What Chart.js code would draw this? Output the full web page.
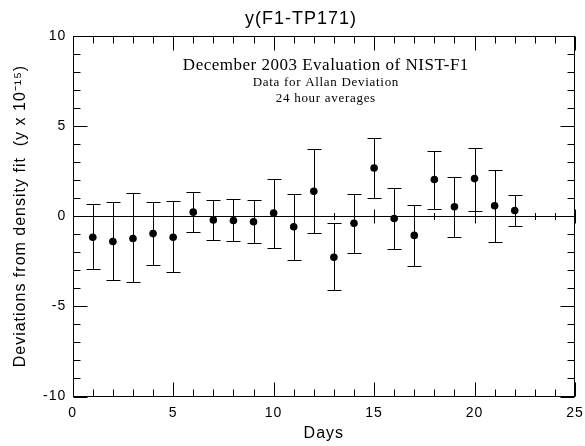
<!DOCTYPE html>
<html><head><meta charset="utf-8">
<script src="https://cdn.jsdelivr.net/npm/chart.js@4/dist/chart.umd.min.js"></script>
<style>html,body{margin:0;padding:0;background:#fff}#wrap{width:585px;height:446px}</style>
</head><body><div id="wrap"><canvas id="c" width="585" height="446"></canvas></div>
<script>
const days = [1,2,3,4,5,6,7,8,9,10,11,12,13,14,15,16,17,18,19,20,21,22];
const deviations = [-1.17,-1.41,-1.24,-0.97,-1.17,0.22,-0.22,-0.24,-0.31,0.17,-0.59,1.38,-2.28,-0.40,2.67,-0.13,-1.07,2.03,0.52,2.08,0.57,0.31];
const upperErr = [0.68,0.77,1.29,0.77,0.81,1.33,0.90,0.96,0.90,2.06,1.20,3.72,-0.41,1.25,4.33,1.58,0.61,3.63,2.19,3.80,2.56,1.16];
const lowerErr = [-2.95,-3.52,-3.68,-2.72,-3.10,-0.90,-1.34,-1.40,-1.51,-1.77,-2.41,-0.92,-4.10,-2.02,0.99,-1.82,-2.74,0.41,-1.14,0.31,-1.44,-0.55];
const xTicks = [0,1,2,3,4,5,6,7,8,9,10,11,12,13,14,15,16,17,18,19,20,21,22,23,24,25];
const yTicks = [-10,-9,-8,-7,-6,-5,-4,-3,-2,-1,0,1,2,3,4,5,6,7,8,9,10];
const titleText = 'y(F1-TP171)';
const xTitle = 'Days';
const yTitle = 'Deviations from density fit  (y x 10\u207B\u00B9\u2075)';
const noteLines = ['December 2003 Evaluation of NIST-F1','Data for Allan Deviation','24 hour averages'];

const SANS = "'Liberation Sans', Arial, sans-serif";
const SERIF = "'Liberation Serif', 'Times New Roman', serif";

const spacing = {
  id: 'spacing',
  beforeLayout(chart) { chart.ctx.letterSpacing = '1px'; },
  beforeDraw(chart) { chart.ctx.letterSpacing = '1px'; }
};

const decor = {
  id: 'decor',
  beforeDatasetsDraw(chart) {
    const ctx = chart.ctx, a = chart.chartArea;
    const xs = chart.scales.x, ys = chart.scales.y;
    ctx.save();
    ctx.strokeStyle = '#000';
    ctx.lineWidth = 1;
    const L = Math.round(a.left)+0.5, R = Math.round(a.right)-0.5, T = Math.round(a.top)+0.5, B = Math.round(a.bottom)-0.5;
    ctx.strokeRect(L, T, R-L, B-T);
    ctx.beginPath();
    xTicks.forEach(v => {
      const px = Math.round(xs.getPixelForValue(v)) + 0.5;
      const len = v % 5 === 0 ? 14 : 7;
      ctx.moveTo(px, B); ctx.lineTo(px, B-len);
      ctx.moveTo(px, T); ctx.lineTo(px, T+len);
    });
    yTicks.forEach(v => {
      const py = Math.round(ys.getPixelForValue(v)) + 0.5;
      const len = v % 5 === 0 ? 14 : 7;
      ctx.moveTo(L, py); ctx.lineTo(L+len, py);
      ctx.moveTo(R, py); ctx.lineTo(R-len, py);
    });
    const z = Math.round(ys.getPixelForValue(0)) + 0.5;
    ctx.moveTo(L, z); ctx.lineTo(R, z);
    xTicks.forEach(v => {
      const px = Math.round(xs.getPixelForValue(v)) + 0.5;
      const h = v % 5 === 0 ? 7 : 3.5;
      ctx.moveTo(px, z-h); ctx.lineTo(px, z+h);
    });
    ctx.stroke();
    ctx.beginPath();
    days.forEach((d, i) => {
      const px = Math.round(xs.getPixelForValue(d)) + 0.5;
      const pHi = Math.round(ys.getPixelForValue(upperErr[i])) + 0.5;
      const pLo = Math.round(ys.getPixelForValue(lowerErr[i])) + 0.5;
      ctx.moveTo(px, pHi); ctx.lineTo(px, pLo);
      ctx.moveTo(px-7, pHi); ctx.lineTo(px+7, pHi);
      ctx.moveTo(px-7, pLo); ctx.lineTo(px+7, pLo);
    });
    ctx.stroke();
    ctx.fillStyle = '#000';
    ctx.textAlign = 'center';
    ctx.textBaseline = 'middle';
    ctx.letterSpacing = '1px';
    ctx.font = '18px ' + SANS;
    ctx.fillText(titleText, 301, 19);
    const cx = xs.getPixelForValue(12.6);
    ctx.letterSpacing = '0.5px';
    ctx.font = '17px ' + SERIF;
    ctx.fillText(noteLines[0], cx, 66);
    ctx.letterSpacing = '0.7px';
    ctx.font = '13px ' + SERIF;
    ctx.fillText(noteLines[1], cx, 83);
    ctx.fillText(noteLines[2], cx, 99);
    ctx.restore();
  }
};

new Chart(document.getElementById('c'), {
  type: 'scatter',
  data: {
    datasets: [{
      data: days.map((d, i) => ({x: d, y: deviations[i]})),
      backgroundColor: '#000',
      borderColor: '#000',
      pointRadius: 3.8,
      pointBorderWidth: 0,
      showLine: false
    }]
  },
  options: {
    responsive: false,
    devicePixelRatio: 1,
    animation: false,
    layout: { padding: { left: 0, right: 10, top: 35.7, bottom: 0 } },
    plugins: {
      legend: { display: false },
      tooltip: { enabled: false },
      title: { display: false }
    },
    scales: {
      x: {
        type: 'linear', min: 0, max: 25,
        grid: { display: false, drawTicks: false },
        border: { display: false },
        ticks: { stepSize: 5, color: '#000', padding: 8, font: { family: SANS, size: 14 } },
        title: { display: true, text: xTitle, color: '#000', font: { family: SANS, size: 16 }, padding: { top: 0, bottom: 3 } },
        afterFit: s => { s.height = 49.5; s.paddingLeft = 0; s.paddingRight = 0; }
      },
      y: {
        type: 'linear', min: -10, max: 10,
        grid: { display: false, drawTicks: false },
        border: { display: false },
        ticks: { stepSize: 5, color: '#000', padding: 6.5, font: { family: SANS, size: 14 } },
        title: { display: true, text: yTitle, color: '#000', font: { family: SANS, size: 16 }, padding: { top: 11, bottom: 0 } },
        afterFit: s => { s.width = 72.7; s.paddingTop = 0; s.paddingBottom = 0; }
      }
    }
  },
  plugins: [spacing, decor]
});
</script></body></html>
